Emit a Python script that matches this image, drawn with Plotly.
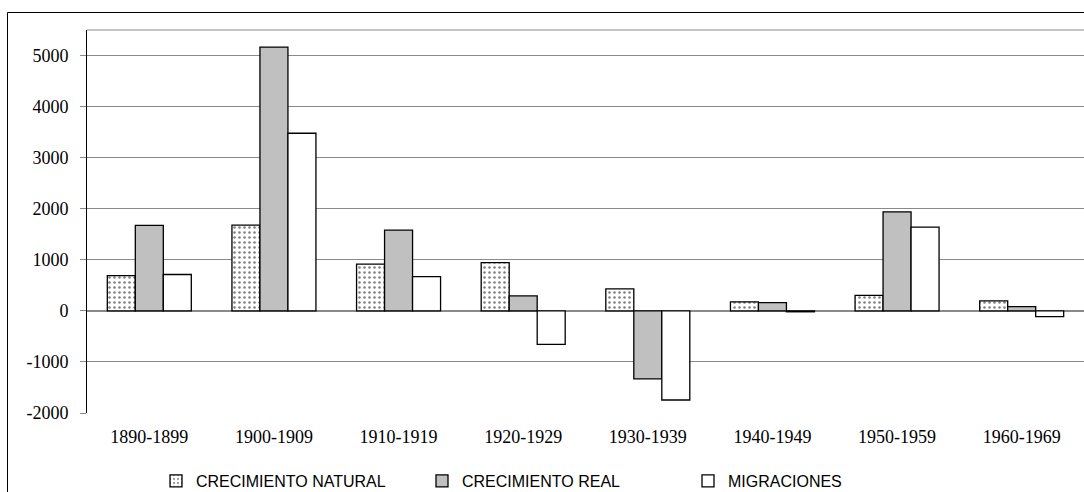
import plotly.graph_objects as go

categories = ["1890-1899", "1900-1909", "1910-1919", "1920-1929",
              "1930-1939", "1940-1949", "1950-1959", "1960-1969"]
crecimiento_natural = [690, 1680, 915, 945, 430, 178, 305, 195]
crecimiento_real = [1675, 5165, 1580, 292, -1330, 160, 1940, 85]
migraciones = [712, 3478, 672, -655, -1745, -18, 1641, -112]

y_ticks = [-2000, -1000, 0, 1000, 2000, 3000, 4000, 5000]
y_ticktext = [str(v) for v in y_ticks]
y_range = [-2000, 5500]

W, H = 1084, 492
ml, mr, mt, mb = 87, 0, 30, 79

fig = go.Figure()
fig.add_trace(go.Bar(
    name="CRECIMIENTO NATURAL", x=categories, y=crecimiento_natural,
    marker=dict(color="white", line=dict(color="black", width=1.3),
                pattern=dict(shape=".", fgcolor="black", bgcolor="white",
                             size=5, solidity=0.2)),
))
fig.add_trace(go.Bar(
    name="CRECIMIENTO REAL", x=categories, y=crecimiento_real,
    marker=dict(color="#C0C0C0", line=dict(color="black", width=1.3)),
))
fig.add_trace(go.Bar(
    name="MIGRACIONES", x=categories, y=migraciones,
    marker=dict(color="white", line=dict(color="black", width=1.3)),
))

zero_frac = (0 - y_range[0]) / (y_range[1] - y_range[0])
n = len(categories)
pw = W - ml - mr
ph = H - mt - mb

fig.update_layout(
    width=W, height=H,
    margin=dict(l=ml, r=mr, t=mt, b=mb, pad=0, autoexpand=False),
    paper_bgcolor="white", plot_bgcolor="white",
    barmode="group", bargap=0.326, bargroupgap=0,
    showlegend=True,
    legend=dict(orientation="h", x=(156 - ml) / pw, xanchor="left",
                y=-(481 - (H - mb)) / ph, yanchor="middle",
                font=dict(family="Liberation Sans, Arial", size=16, color="black"),
                itemwidth=30, entrywidth=221, entrywidthmode="pixels",
                traceorder="normal", bgcolor="rgba(0,0,0,0)"),
    xaxis=dict(type="category", range=[-0.5, n - 0.5], showgrid=False,
               showline=False, ticks="", ticklabelstandoff=11,
               tickfont=dict(family="Liberation Serif, Times New Roman", size=18, color="black"),
               mirror=False, zeroline=False),
    xaxis2=dict(overlaying="x", anchor="free", position=zero_frac, side="bottom",
                range=[-0.5, n - 0.5], tickmode="array",
                tickvals=[i + 0.5 for i in range(n - 1)], ticktext=[""] * (n - 1),
                ticks="outside", ticklen=5, tickcolor="black", tickwidth=1,
                showgrid=False, showline=False, zeroline=False, showticklabels=False),
    xaxis3=dict(overlaying="x", anchor="free", position=zero_frac, side="bottom",
                range=[-0.5, n - 0.5], tickmode="array",
                tickvals=list(range(n)), ticktext=[""] * n,
                ticks="inside", ticklen=4, tickcolor="black", tickwidth=1,
                showgrid=False, showline=False, zeroline=False, showticklabels=False),
    yaxis=dict(range=y_range, tickmode="array", tickvals=y_ticks, ticktext=y_ticktext,
               showgrid=True, gridcolor="#8a8a8a", gridwidth=1,
               zeroline=True, zerolinecolor="#8a8a8a", zerolinewidth=1.5,
               showline=True, linecolor="black", linewidth=1,
               ticks="outside", ticklen=6, tickcolor="#8a8a8a",
               ticklabelstandoff=8,
               tickfont=dict(family="Liberation Serif, Times New Roman", size=18, color="black")),
    shapes=[
        dict(type="line", xref="paper", yref="paper", x0=0, x1=1.02, y0=1, y1=1,
             line=dict(color="#8a8a8a", width=1)),
        dict(type="rect", xref="paper", yref="paper",
             x0=(7.5 - ml) / pw, x1=1.05,
             y0=-0.5, y1=1 + (mt - 12.5) / ph,
             line=dict(color="black", width=1), fillcolor="rgba(0,0,0,0)", layer="below"),
    ],
)

fig.write_html("out.html", config={"displayModeBar": False},
               post_script="document.body.style.margin='0';document.body.style.overflow='hidden';")
